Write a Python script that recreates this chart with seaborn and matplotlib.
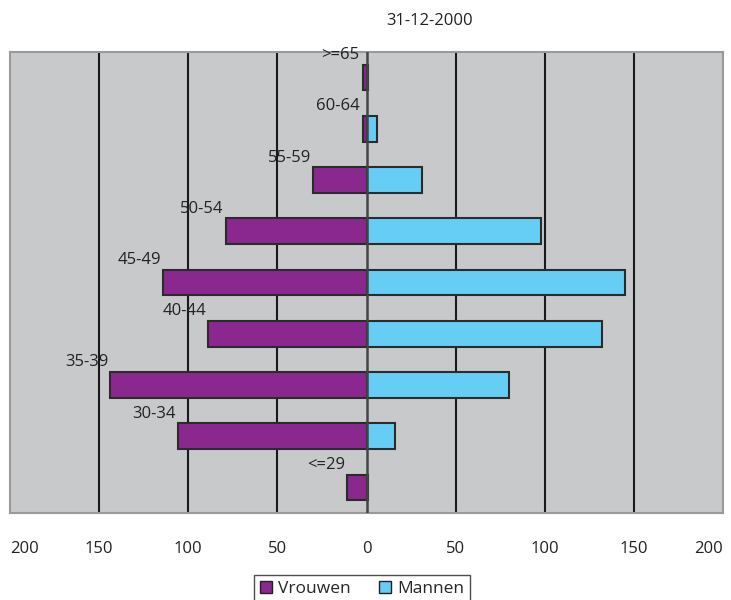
import pandas as pd
import matplotlib.pyplot as plt
import seaborn as sns
from matplotlib.patches import Patch

PURPLE = "#8A2890"
LIGHT_BLUE = "#66CDF5"
BG_GRAY = "#C8C9CA"

AGE_GROUPS = [">=65", "60-64", "55-59", "50-54", "45-49", "40-44", "35-39", "30-34", "<=29"]
VROUWEN = [2, 2, 30, 79, 114, 89, 144, 106, 11]
MANNEN = [1, 6, 31, 98, 145, 132, 80, 16, 1]
TICKS = [-200, -150, -100, -50, 0, 50, 100, 150, 200]
TICK_LABELS = ["200", "150", "100", "50", "0", "50", "100", "150", "200"]
TITLE = "31-12-2000"

df = pd.concat([
    pd.DataFrame({"Leeftijd": AGE_GROUPS, "Aantal": [-v for v in VROUWEN], "Geslacht": "Vrouwen"}),
    pd.DataFrame({"Leeftijd": AGE_GROUPS, "Aantal": MANNEN, "Geslacht": "Mannen"}),
])

sns.set_style("white")
plt.rcParams["font.family"] = ["Open Sans", "DejaVu Sans"]

fig = plt.figure(figsize=(7.31, 6), dpi=100)
ax = fig.add_axes([10 / 731, 1 - 513 / 600, 713 / 731, 461 / 600])
ax.set_facecolor(BG_GRAY)

for x in [-150, -100, -50, 50, 100, 150]:
    ax.axvline(x, color="#1a1a1a", lw=1.5, zorder=1)
ax.axvline(0, color="#444444", lw=1.8, zorder=3)

sns.barplot(
    data=df,
    y="Leeftijd",
    x="Aantal",
    hue="Geslacht",
    order=AGE_GROUPS,
    palette={"Vrouwen": PURPLE, "Mannen": LIGHT_BLUE},
    saturation=1,
    dodge=False,
    width=0.5,
    orient="h",
    edgecolor="#2b2b2b",
    linewidth=1.5,
    legend=False,
    ax=ax,
    zorder=2,
)

for i, (label, v) in enumerate(zip(AGE_GROUPS, VROUWEN)):
    ax.text(-max(v, 3) - 1, i - 0.44, label, ha="right", va="center",
            fontsize=12, color="#222222")

ax.set_xlim(-200, 200)
ax.set_ylim(len(AGE_GROUPS) - 0.5, -0.5)
ax.set_xticks(TICKS)
ax.set_xticklabels(TICK_LABELS, fontsize=12, color="#222222")
ax.get_xticklabels()[0].set_horizontalalignment("left")
ax.get_xticklabels()[-1].set_horizontalalignment("right")
ax.tick_params(axis="x", length=0, pad=20)
ax.set_yticks([])
ax.set_xlabel("")
ax.set_ylabel("")
for side in ["left", "right", "top", "bottom"]:
    ax.spines[side].set_visible(True)
    ax.spines[side].set_color("#9a9a9a")
    ax.spines[side].set_linewidth(1.5)

fig.text(430 / 731, 1 - 21 / 600, TITLE, ha="center", va="center",
         fontsize=12, color="#222222")

handles = [
    Patch(facecolor=PURPLE, edgecolor="#222222", label="Vrouwen"),
    Patch(facecolor=LIGHT_BLUE, edgecolor="#222222", label="Mannen"),
]
leg = fig.legend(
    handles=handles,
    loc="lower center",
    bbox_to_anchor=(362 / 731, -0.02),
    ncol=2,
    fontsize=12.5,
    frameon=True,
    fancybox=False,
    handlelength=0.7,
    handleheight=0.7,
    handletextpad=0.35,
    columnspacing=1.6,
    borderpad=0.35,
)
leg.get_frame().set_edgecolor("#222222")
leg.get_frame().set_linewidth(1.0)

plt.savefig("out.png", dpi=100)
plt.close()
